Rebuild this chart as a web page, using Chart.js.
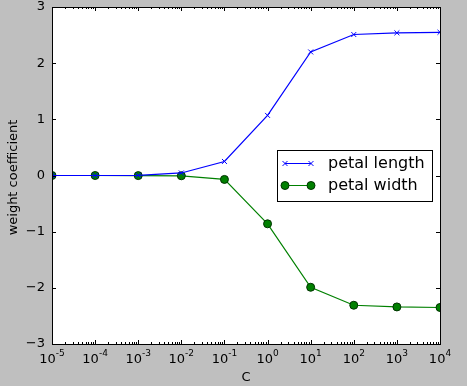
<!DOCTYPE html>
<html><head><meta charset="utf-8">
<script src="https://cdn.jsdelivr.net/npm/chart.js@4/dist/chart.umd.min.js"></script>
<style>html,body{margin:0;padding:0;background:#bfbfbf;overflow:hidden}</style>
</head><body>
<canvas id="c" width="467" height="386"></canvas>
<script>
const Cvalues = [1e-5, 1e-4, 1e-3, 1e-2, 1e-1, 1, 10, 100, 1000, 10000];
const petalLength = [0.0, 0.0, 0.003, 0.045, 0.25, 1.07, 2.2, 2.51, 2.54, 2.55];
const petalWidth = [0.0, 0.0, -0.002, -0.005, -0.07, -0.86, -1.99, -2.31, -2.34, -2.35];
const xTickExponents = [-5, -4, -3, -2, -1, 0, 1, 2, 3, 4];
const yTickValues = [-3, -2, -1, 0, 1, 2, 3];
const seriesNames = ['petal length', 'petal width'];

const FONT = 'DejaVu Sans';

const framePlugin = {
  id: 'frame',
  beforeDatasetsDraw(chart) {
    const {ctx, chartArea: a} = chart;
    ctx.save();
    ctx.fillStyle = '#fff';
    ctx.fillRect(a.left, a.top, a.right - a.left, a.bottom - a.top);
    ctx.restore();
  },
  afterDatasetsDraw(chart) {
    const {ctx, chartArea: a, scales: {x, y}} = chart;
    ctx.save();
    ctx.strokeStyle = '#000';
    ctx.lineWidth = 1;
    ctx.beginPath();
    for (let e = xTickExponents[0]; e <= xTickExponents[xTickExponents.length - 1]; e++) {
      for (let m = 1; m <= 9; m++) {
        const v = m * Math.pow(10, e);
        if (v > x.max * 1.0001) break;
        const px = Math.round(x.getPixelForValue(v)) + 0.5;
        const len = m === 1 ? 4 : 2;
        ctx.moveTo(px, a.bottom); ctx.lineTo(px, a.bottom - len);
        ctx.moveTo(px, a.top); ctx.lineTo(px, a.top + len);
      }
    }
    yTickValues.forEach(v => {
      const py = Math.round(y.getPixelForValue(v)) + 0.5;
      ctx.moveTo(a.left, py); ctx.lineTo(a.left + 4, py);
      ctx.moveTo(a.right, py); ctx.lineTo(a.right - 4, py);
    });
    ctx.stroke();
    ctx.strokeRect(Math.round(a.left) + 0.5, Math.round(a.top) + 0.5, Math.round(a.right - a.left), Math.round(a.bottom - a.top));

    // x tick labels: "10" with a raised exponent
    ctx.fillStyle = '#000';
    ctx.textBaseline = 'alphabetic';
    xTickExponents.forEach(e => {
      const px = x.getPixelForValue(Math.pow(10, e));
      ctx.font = '13px "' + FONT + '"';
      const base = '10';
      const wb = ctx.measureText(base).width;
      ctx.font = '9px "' + FONT + '"';
      const ex = e < 0 ? '-' + Math.abs(e) : String(e);
      const we = ctx.measureText(ex).width;
      const start = px - (wb + we) / 2;
      ctx.font = '13px "' + FONT + '"';
      ctx.textAlign = 'left';
      ctx.fillText(base, start, a.bottom + 19);
      ctx.font = '9px "' + FONT + '"';
      ctx.fillText(ex, start + wb, a.bottom + 12);
    });

    // axis titles
    ctx.font = '13px "' + FONT + '"';
    ctx.textAlign = 'center';
    ctx.textBaseline = 'middle';
    ctx.fillText('C', (a.left + a.right) / 2, 378);
    ctx.save();
    ctx.translate(14, (a.top + a.bottom) / 2 + 2);
    ctx.rotate(-Math.PI / 2);
    ctx.fillText('weight coefficient', 0, 0);
    ctx.restore();

    // legend
    const lx = 277.5, ly = 150.5, lw = 155, lh = 51;
    ctx.fillStyle = '#fff';
    ctx.fillRect(lx, ly, lw, lh);
    ctx.strokeStyle = '#000';
    ctx.strokeRect(lx, ly, lw, lh);
    const rows = [163, 185];
    chart.data.datasets.forEach((ds, i) => {
      const yy = rows[i] + 0.5;
      ctx.strokeStyle = ds.borderColor;
      ctx.lineWidth = 1;
      ctx.beginPath(); ctx.moveTo(285, yy); ctx.lineTo(311, yy); ctx.stroke();
      [285, 311].forEach(px => {
        ctx.fillStyle = ds.pointBackgroundColor;
        ctx.strokeStyle = ds.pointBorderColor;
        Chart.helpers.drawPoint(ctx, {pointStyle: ds.pointStyle, radius: ds.pointRadius, rotation: 0, borderWidth: 1}, px, yy);
      });
      ctx.fillStyle = '#000';
      ctx.font = '16px "' + FONT + '"';
      ctx.textAlign = 'left';
      ctx.textBaseline = 'middle';
      ctx.fillText(seriesNames[i], 328, yy + 0.5);
    });
    ctx.restore();
  }
};

Chart.defaults.font.family = FONT;
Chart.defaults.color = '#000';

new Chart(document.getElementById('c'), {
  type: 'line',
  data: {
    datasets: [
      {
        label: seriesNames[0],
        data: Cvalues.map((c, i) => ({x: c, y: petalLength[i]})),
        borderColor: '#0000ff', borderWidth: 1.2,
        pointStyle: 'crossRot', pointRadius: 3.5,
        pointBorderColor: '#0000ff', pointBackgroundColor: '#0000ff', pointBorderWidth: 1,
        fill: false, tension: 0, clip: 0
      },
      {
        label: seriesNames[1],
        data: Cvalues.map((c, i) => ({x: c, y: petalWidth[i]})),
        borderColor: '#008000', borderWidth: 1.2,
        pointStyle: 'circle', pointRadius: 4,
        pointBorderColor: '#003300', pointBackgroundColor: '#008000', pointBorderWidth: 1,
        fill: false, tension: 0, clip: 0
      }
    ]
  },
  options: {
    responsive: false,
    devicePixelRatio: 1,
    animation: false,
    events: [],
    layout: {padding: {top: 7, right: 27, left: 0, bottom: 0}},
    plugins: {legend: {display: false}, tooltip: {enabled: false}},
    scales: {
      x: {
        type: 'logarithmic',
        min: 1e-5, max: 1e4,
        grid: {display: false, drawTicks: false},
        border: {display: false},
        afterBuildTicks: s => { s.ticks = xTickExponents.map(e => ({value: Math.pow(10, e)})); },
        afterFit: s => { s.height = 42; s.paddingLeft = 0; s.paddingRight = 0; },
        ticks: { display: false, autoSkip: false, maxRotation: 0 }
      },
      y: {
        type: 'linear',
        min: -3, max: 3,
        grid: {display: false, drawTicks: false},
        border: {display: false},
        afterBuildTicks: s => { s.ticks = yTickValues.map(v => ({value: v})); },
        afterFit: s => { s.width = 52; s.paddingTop = 0; s.paddingBottom = 0; },
        ticks: {
          padding: 7,
          font: {size: 13},
          callback: v => (v < 0 ? '\u2212' + Math.abs(v) : String(v))
        }
      }
    }
  },
  plugins: [framePlugin]
});
</script>
</body></html>
